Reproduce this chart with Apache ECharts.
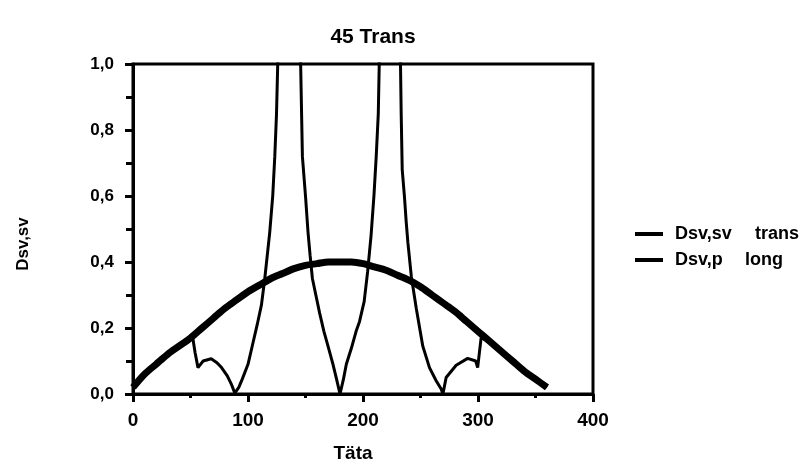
<!DOCTYPE html>
<html><head><meta charset="utf-8">
<script src="https://cdn.jsdelivr.net/npm/echarts@6/dist/echarts.min.js"></script>
<style>html,body{margin:0;padding:0;background:#fff}#c{width:809px;height:468px}</style>
</head><body><div id="c"></div>
<script>
const titleText = '45 Trans';
const xName = 'Täta';
const yName = 'Dsv,sv';
const seriesNames = ['Dsv,sv', 'Dsv,p'];
const legendSuffix = ['trans', 'long'];

// Dsv,sv (trans) – thin curve, [theta, value]; null = break at asymptote
const transData = [
  [0,0.02],[10,0.06],[20,0.09],[30,0.12],[40,0.145],[50,0.165],[52,0.17],[54,0.125],[56.5,0.08],
  [61,0.10],[68,0.107],[73,0.095],[77,0.08],[82,0.055],[85.5,0.03],[88.5,0.003],[92,0.02],
  [95,0.045],[100,0.09],[104,0.15],[108,0.21],[111.7,0.27],[114.6,0.35],[118.9,0.49],
  [121.5,0.60],[123.3,0.72],[124.8,0.85],[126.2,1.05],
  null,
  [145.5,1.05],[147.3,0.72],[150,0.60],[152.2,0.49],[154,0.42],[156,0.35],[159,0.30],
  [162.3,0.245],[166,0.19],[170,0.14],[173.9,0.09],[177,0.045],[180,0.0],
  [183,0.045],[185.5,0.09],[190,0.14],[194,0.19],[197,0.22],[201,0.28],[204,0.37],
  [207,0.48],[209.5,0.60],[211.5,0.72],[213.3,0.85],[214.4,1.05],
  null,
  [232.4,1.05],[233.2,0.85],[234.1,0.68],[236,0.60],[237.6,0.52],[239,0.46],[242,0.357],
  [246.3,0.26],[252,0.145],[257.8,0.08],[263.6,0.04],[268,0.015],[269.5,0.0],[272.3,0.05],
  [281,0.087],[291,0.108],[298,0.10],[299.7,0.08],[302.7,0.17],[310,0.16],[320,0.13],
  [330,0.10],[340,0.07],[350,0.045],[360,0.02]
];

// Dsv,p (long) – thick arc
const longTheta = [0,10,20,30,40,50,60,70,80,90,100,110,120,130,140,150,160,170,180,
  190,200,210,220,230,240,250,260,270,280,290,300,310,320,330,340,350,360];
const longValues = [0.02,0.06,0.09,0.12,0.145,0.17,0.20,0.23,0.26,0.285,0.31,0.33,0.35,0.365,
  0.38,0.39,0.395,0.40,0.40,0.40,0.395,0.385,0.375,0.36,0.345,0.325,0.30,0.275,0.25,0.22,
  0.19,0.16,0.13,0.10,0.07,0.045,0.02];

const xMin = 0, xMax = 400, xInterval = 100;
const yMin = 0, yMax = 1, yInterval = 0.2;

const FONT = '"Liberation Sans", Arial, sans-serif';
const bold = (size) => ({fontFamily: FONT, fontWeight: 'bold', fontSize: size, color: '#000'});
const chart = echarts.init(document.getElementById('c'));
chart.setOption({
  backgroundColor: '#fff',
  animation: false,
  title: {
    text: titleText, left: 368, top: 22, textAlign: 'center',
    textStyle: bold(21)
  },
  legend: {
    orient: 'vertical', left: 630, top: 220, itemWidth: 28, itemHeight: 4, itemGap: 8,
    icon: 'rect',
    data: seriesNames,
    formatter: function (n) {
      return n === seriesNames[0] ? '{a|' + n + '}{b|' + legendSuffix[0] + '}'
                                  : '{c|' + n + '}{b|' + legendSuffix[1] + '}';
    },
    textStyle: Object.assign(bold(18), {
      rich: {
        a: Object.assign(bold(18), {width: 80, padding: [0, 0, 0, 7]}),
        c: Object.assign(bold(18), {width: 70, padding: [0, 0, 0, 7]}),
        b: bold(18)
      }
    })
  },
  grid: {left: 133, right: 216, top: 64, bottom: 72, show: true, borderColor: '#000', borderWidth: 3},
  xAxis: {
    type: 'value', min: xMin, max: xMax, interval: xInterval,
    name: xName, nameLocation: 'middle', nameGap: 50,
    nameTextStyle: Object.assign(bold(19), {padding: [0, 20, 0, 0]}),
    axisLine: {lineStyle: {color: '#000', width: 3}},
    axisTick: {show: true, length: 8, lineStyle: {color: '#000', width: 3}},
    minorTick: {show: true, splitNumber: 2, length: 4, lineStyle: {color: '#000', width: 3}},
    splitLine: {show: false},
    axisLabel: Object.assign(bold(19), {margin: 17})
  },
  yAxis: {
    type: 'value', min: yMin, max: yMax, interval: yInterval,
    name: yName, nameLocation: 'middle', nameGap: 101, nameRotate: 90,
    nameTextStyle: Object.assign(bold(17), {padding: [0, 30, 0, 0]}),
    axisLine: {lineStyle: {color: '#000', width: 3}},
    axisTick: {show: true, length: 8, lineStyle: {color: '#000', width: 3}},
    minorTick: {show: true, splitNumber: 2, length: 7, lineStyle: {color: '#000', width: 3}},
    splitLine: {show: false},
    axisLabel: Object.assign(bold(17), {margin: 19,
      formatter: function (v) { return v.toFixed(1).replace('.', ','); }})
  },
  series: [
    {
      name: seriesNames[0], type: 'line', data: transData, showSymbol: false, symbol: 'none',
      connectNulls: false, clip: true, z: 3,
      itemStyle: {color: '#000'},
      lineStyle: {color: '#000', width: 3}
    },
    {
      name: seriesNames[1], type: 'line', data: longTheta.map((t, i) => [t, longValues[i]]),
      showSymbol: false, symbol: 'none', smooth: 0.3, clip: true, z: 2,
      itemStyle: {color: '#000'},
      lineStyle: {color: '#000', width: 7}
    }
  ]
});
</script>
</body></html>
